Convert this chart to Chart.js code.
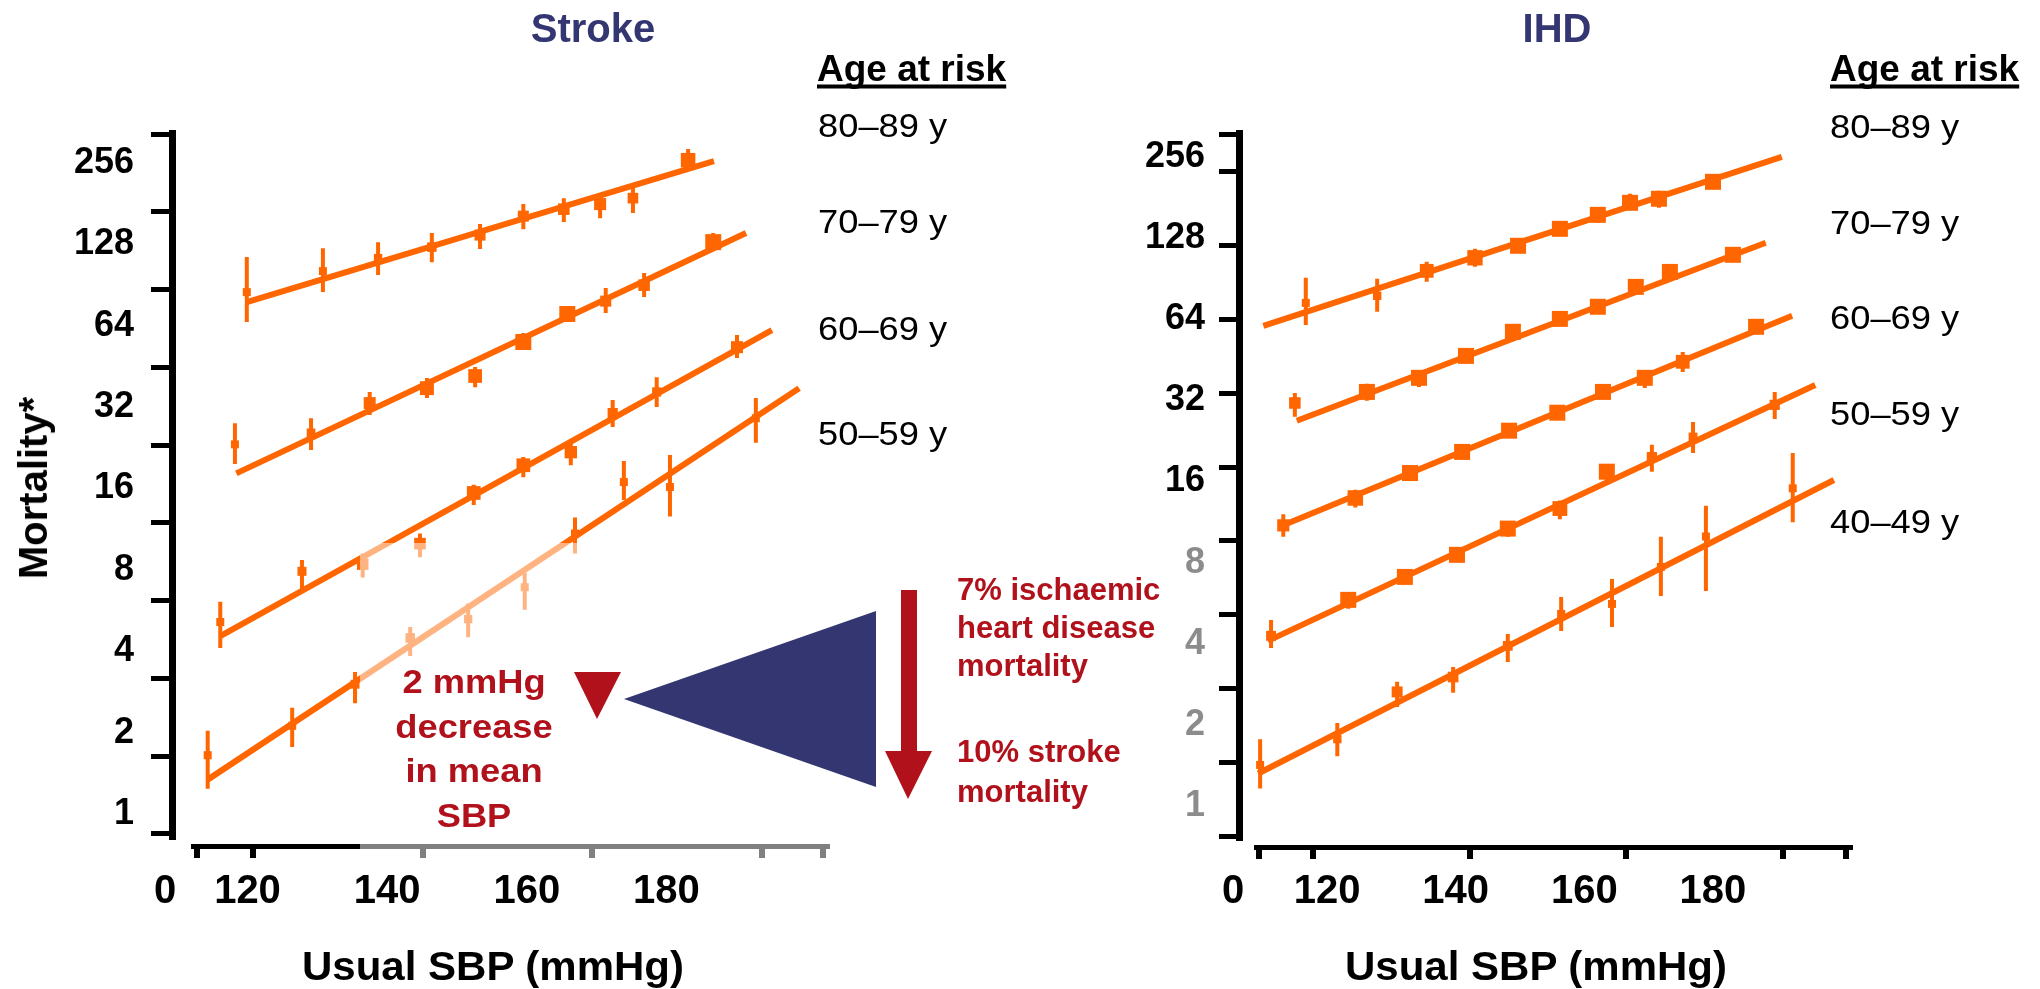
<!DOCTYPE html>
<html>
<head>
<meta charset="utf-8">
<script src="https://cdn.jsdelivr.net/npm/chart.js@4.4.1/dist/chart.umd.min.js"></script>
<style>
  html, body { margin: 0; padding: 0; background: #fff; }
  #page { position: relative; width: 2040px; height: 989px; overflow: hidden;
          font-family: "Liberation Sans", Arial, sans-serif; color: #000; }
  canvas { position: absolute; top: 0; }
  #strokeChart { left: 0; }
  #ihdChart { left: 1020px; }
  .t { position: absolute; white-space: nowrap; line-height: 1; }
  .title { font-size: 40px; font-weight: bold; color: #333670; transform: translate(-50%, -50%); }
  .head { font-size: 37px; font-weight: bold; transform: translate(0, -50%);
          text-decoration: underline; text-decoration-thickness: 4px;
          text-underline-offset: 4px; text-decoration-skip-ink: none; }
  .age { font-size: 33px; transform-origin: 0 50%; transform: translate(0, -50%) scaleX(1.1); }
  .xtitle { font-size: 40px; font-weight: bold; transform: translate(-50%, -50%) scaleX(1.05); }
  .ytitle { font-size: 40px; font-weight: bold; transform: translate(-50%, -50%) rotate(-90deg); }
  .note { color: #b0111b; font-weight: bold; }
  .mm { font-size: 33px; line-height: 44.5px; text-align: center;
        transform: translate(-50%, -50%) scaleX(1.1); }
  .pct { font-size: 31px; }
</style>
</head>
<body>
<div id="page">
  <canvas id="strokeChart" width="1020" height="989"></canvas>
  <canvas id="ihdChart" width="1020" height="989"></canvas>

  <div class="t title" style="left:593px; top:28px">Stroke</div>
  <div class="t title" style="left:1557px; top:28px">IHD</div>

  <div class="t head" style="left:817px; top:68px">Age at risk</div>
  <div class="t head" style="left:1830px; top:68px">Age at risk</div>

  <div class="t age" style="left:818px; top:125px">80–89 y</div>
  <div class="t age" style="left:818px; top:221px">70–79 y</div>
  <div class="t age" style="left:818px; top:328px">60–69 y</div>
  <div class="t age" style="left:818px; top:433px">50–59 y</div>

  <div class="t age" style="left:1830px; top:126px">80–89 y</div>
  <div class="t age" style="left:1830px; top:222px">70–79 y</div>
  <div class="t age" style="left:1830px; top:317px">60–69 y</div>
  <div class="t age" style="left:1830px; top:413px">50–59 y</div>
  <div class="t age" style="left:1830px; top:521px">40–49 y</div>

  <div class="t ytitle" style="left:33px; top:488px">Mortality*</div>
  <div class="t xtitle" style="left:493px; top:966px">Usual SBP (mmHg)</div>
  <div class="t xtitle" style="left:1536px; top:966px">Usual SBP (mmHg)</div>

  <div class="t note mm" style="left:474px; top:749px">2 mmHg<br>decrease<br>in mean<br>SBP</div>
  <div class="t note pct" style="left:957px; top:571px; line-height:38px">7% ischaemic<br>heart disease<br>mortality</div>
  <div class="t note pct" style="left:957px; top:732px; line-height:40px">10% stroke<br>mortality</div>
</div>

<script>
const ORANGE = '#ff6600';
const NAVY = '#333670';
const RED = '#b0111b';
const GREY = '#8c8c8c';

// Each row: [usual SBP, mortality, lower CI, upper CI]
const strokeAge80 = [
  [119.9, 85.2, 66.0, 114.8], [130.8, 101.9, 85.2, 123.9], [138.7, 113.8, 98.5, 130.4],
  [146.4, 125.0, 110.0, 140.9], [153.3, 138.5, 122.9, 152.1], [159.5, 162.7, 145.7, 180.3],
  [165.3, 172.7, 154.7, 189.7], [170.5, 180.3, 160.0, 194.6], [175.2, 189.7, 167.0, 208.4],
  [183.1, 262.1, 244.9, 288.0]
];
const strokeAge70 = [
  [118.2, 23.3, 19.7, 27.9], [129.1, 25.7, 22.2, 29.1], [137.5, 33.1, 29.9, 36.4],
  [145.7, 37.6, 34.6, 41.0], [152.6, 41.7, 37.9, 45.0], [159.5, 55.7, 52.0, 60.1],
  [165.8, 70.7, 66.0, 75.0], [171.3, 78.9, 71.3, 88.2], [176.8, 90.4, 81.7, 100.2],
  [186.7, 130.4, 121.9, 140.9]
];
const strokeAge60 = [
  [116.1, 5.13, 4.11, 6.1], [127.8, 7.9, 6.7, 8.7], [136.5, 8.4, 7.5, 9.2],
  [144.7, 10.0, 8.9, 10.9], [152.4, 15.4, 13.9, 16.5], [159.5, 19.5, 17.6, 20.9],
  [166.3, 21.8, 19.5, 23.6], [172.3, 30.4, 27.0, 34.0], [178.6, 36.4, 32.0, 41.3],
  [190.1, 53.3, 48.6, 59.1]
];
const strokeAge50 = [
  [114.3, 1.65, 1.24, 2.03], [126.4, 2.12, 1.77, 2.47], [135.4, 3.02, 2.57, 3.35],
  [143.3, 4.48, 3.84, 4.92], [151.6, 5.26, 4.51, 6.0], [159.7, 6.9, 5.7, 7.8],
  [166.9, 10.9, 9.2, 12.5], [173.9, 16.9, 14.5, 20.2], [180.5, 16.2, 12.6, 21.3],
  [192.8, 29.1, 23.6, 34.6]
];

const ihdAge80 = [
  [116.7, 73.6, 61.0, 91.2], [127.8, 78.2, 68.2, 90.4], [135.5, 96.8, 88.1, 104.5],
  [143.0, 108.2, 100.2, 116.8], [149.7, 119.9, 115.9, 124.0], [156.2, 138.6, 134.0, 143.4],
  [162.1, 156.2, 145.9, 165.9], [167.1, 173.1, 163.1, 186.9], [171.6, 179.2, 165.9, 191.8],
  [180.0, 207.1, 200.1, 214.3]
];
const ihdAge70 = [
  [115.0, 31.3, 27.8, 34.1], [126.2, 34.4, 31.9, 36.9], [134.3, 38.8, 35.9, 41.5],
  [141.6, 46.8, 45.2, 48.4], [148.9, 57.5, 55.6, 59.5], [156.2, 64.2, 62.1, 66.4],
  [162.1, 71.2, 68.8, 73.6], [168.0, 84.4, 81.6, 87.3], [173.3, 95.9, 92.7, 99.2],
  [183.1, 111.0, 107.3, 114.8]
];
const ihdAge60 = [
  [113.2, 11.0, 9.97, 12.1], [124.4, 13.9, 12.8, 14.9], [132.9, 17.2, 16.6, 17.8],
  [141.0, 20.6, 19.9, 21.3], [148.3, 24.7, 23.9, 25.6], [155.8, 28.8, 27.8, 29.8],
  [162.9, 34.4, 33.2, 35.6], [169.4, 38.8, 35.6, 41.2], [175.3, 44.5, 40.8, 48.4],
  [186.7, 60.0, 58.0, 62.1]
];
const ihdAge50 = [
  [111.3, 4.28, 3.86, 4.90], [123.3, 5.82, 5.39, 6.23], [132.1, 7.08, 6.73, 7.46],
  [140.2, 8.55, 8.05, 9.0], [148.1, 10.7, 9.97, 11.3], [156.2, 12.7, 11.6, 13.6],
  [163.5, 17.4, 16.2, 18.4], [170.5, 19.7, 17.4, 21.9], [176.9, 23.4, 20.4, 26.6],
  [189.6, 30.8, 27.3, 34.4]
];
const ihdAge40 = [
  [109.6, 1.42, 1.16, 1.77], [121.6, 1.77, 1.53, 2.03], [130.9, 2.65, 2.33, 2.89],
  [139.6, 3.01, 2.63, 3.28], [148.1, 3.93, 3.42, 4.35], [156.4, 5.16, 4.46, 5.97],
  [164.3, 5.62, 4.62, 6.96], [171.9, 7.71, 6.02, 9.97], [178.9, 10.0, 6.28, 13.0],
  [192.4, 15.1, 11.3, 20.4]
];

// Fitted log-linear trend for each age band: [[SBP, mortality], [SBP, mortality]]
const strokeFit80 = [[119.9, 78.2], [186.8, 260.0]];
const strokeFit70 = [[118.4, 18.2], [191.4, 140.9]];
const strokeFit60 = [[116.1, 4.55], [195.1, 61.6]];
const strokeFit50 = [[114.3, 1.34], [199.0, 37.6]];
const ihdFit80 = [[110.1, 60.5], [190.7, 256.4]];
const ihdFit70 = [[115.3, 26.9], [188.2, 123.0]];
const ihdFit60 = [[112.7, 10.9], [192.3, 65.9]];
const ihdFit50 = [[110.8, 4.10], [195.9, 36.5]];
const ihdFit40 = [[109.3, 1.32], [198.8, 16.2]];

const mortalityTicks = [1, 2, 4, 8, 16, 32, 64, 128, 256];
const sbpTicks = [120, 140, 160, 180];
const originLabel = '0';

Chart.defaults.font.family = '"Liberation Sans", Arial, sans-serif';

// square size shrinks as the confidence interval widens
function boxRadius(row) {
  const span = Math.log2(row[3] / row[2]);
  const side = Math.min(16, Math.max(8, 3.4 / span));
  return side / (2 * Math.SQRT1_2);
}

function seriesDatasets(rows, fit) {
  const whiskers = [];
  rows.forEach(r => {
    whiskers.push({ x: r[0], y: r[2] }, { x: r[0], y: r[3] }, { x: r[0], y: null });
  });
  return [
    {
      type: 'line', data: fit.map(([x, y]) => ({ x, y })),
      borderColor: ORANGE, borderWidth: 6, pointRadius: 0, xAxisID: 'x', yAxisID: 'y'
    },
    {
      type: 'line', data: whiskers, spanGaps: false,
      borderColor: ORANGE, borderWidth: 4, pointRadius: 0, xAxisID: 'x', yAxisID: 'y'
    },
    {
      type: 'scatter', data: rows.map(r => ({ x: r[0], y: r[1] })),
      pointStyle: 'rect', backgroundColor: ORANGE, borderWidth: 0,
      pointRadius: ctx => boxRadius(rows[ctx.dataIndex]), xAxisID: 'x', yAxisID: 'y'
    }
  ];
}

function panelOptions(p) {
  const fixed = (prop, v) => s => { s[prop] = v; };
  return {
    responsive: false,
    animation: false,
    events: [],
    devicePixelRatio: 1,
    layout: { padding: { left: 0, top: p.top, right: 1020 - p.right, bottom: 989 - p.bottom - 83 } },
    plugins: { legend: { display: false }, tooltip: { enabled: false } },
    scales: {
      x: {
        type: 'linear', axis: 'x', position: 'bottom', weight: 2, bounds: 'data',
        min: p.xMin, max: p.xMax,
        grid: { display: false, drawTicks: false }, border: { display: false },
        afterBuildTicks: s => { s.ticks = [p.xOrigin, ...sbpTicks].map(v => ({ value: v })); },
        afterFit: fixed('height', 60),
        ticks: {
          autoSkip: false, maxRotation: 0, padding: p.xLabelPad, color: '#000',
          font: { size: 40, weight: 'bold' },
          callback: v => (v === p.xOrigin ? originLabel : String(v))
        }
      },
      xt: {
        type: 'linear', axis: 'x', position: 'bottom', weight: 1, bounds: 'data',
        min: p.xtMin, max: p.xtMax,
        grid: { drawOnChartArea: false, drawTicks: true, tickLength: 12, lineWidth: 6, color: '#000' },
        border: { display: true, width: 5, color: '#000' },
        ticks: { display: false },
        afterBuildTicks: s => { s.ticks = p.xtMarks.map(v => ({ value: v })); },
        afterFit: fixed('height', 14)
      },
      xs: {
        type: 'linear', axis: 'x', position: 'bottom', weight: 0,
        grid: { display: false }, border: { display: false }, ticks: { display: false },
        afterFit: fixed('height', 9)
      },
      y: {
        type: 'logarithmic', axis: 'y', position: 'left', weight: 2, bounds: 'data',
        min: p.yMin, max: p.yMax,
        grid: { display: false, drawTicks: false }, border: { display: false },
        afterBuildTicks: s => { s.ticks = mortalityTicks.map(v => ({ value: v })); },
        afterFit: fixed('width', p.yLabelWidth),
        ticks: {
          autoSkip: false, padding: p.yLabelPad,
          font: { size: 36, weight: 'bold' },
          color: c => (p.greyBelow && c.tick && c.tick.value <= p.greyBelow ? GREY : '#000'),
          callback: v => String(v)
        }
      },
      yt: {
        type: 'linear', axis: 'y', position: 'left', weight: 1, bounds: 'data',
        min: p.ytMin, max: p.ytMax,
        grid: { drawOnChartArea: false, drawTicks: true, tickLength: p.yTickLen, lineWidth: 5, color: '#000' },
        border: { display: true, width: 7, color: '#000' },
        ticks: { display: false },
        afterBuildTicks: s => { s.ticks = p.ytMarks.map(v => ({ value: v })); },
        afterFit: fixed('width', 22)
      },
      ys: {
        type: 'linear', axis: 'y', position: 'left', weight: 0,
        grid: { display: false }, border: { display: false }, ticks: { display: false },
        afterFit: fixed('width', p.yGap)
      }
    }
  };
}

// pale wash over the lower middle of the stroke panel, then the blue wedge and red arrows on top
const strokeOverlay = {
  id: 'strokeOverlay',
  afterDraw(chart) {
    const ctx = chart.ctx;
    ctx.save();
    ctx.fillStyle = 'rgba(255,255,255,0.5)';
    ctx.fillRect(360, 543, 480, 320);

    ctx.fillStyle = RED;
    ctx.beginPath();
    ctx.moveTo(574, 672); ctx.lineTo(621, 672); ctx.lineTo(597, 719);
    ctx.closePath(); ctx.fill();

    ctx.fillStyle = NAVY;
    ctx.beginPath();
    ctx.moveTo(624, 699); ctx.lineTo(876, 611); ctx.lineTo(876, 787);
    ctx.closePath(); ctx.fill();

    ctx.fillStyle = RED;
    ctx.fillRect(901, 590, 16, 162);
    ctx.beginPath();
    ctx.moveTo(885, 751); ctx.lineTo(932, 751); ctx.lineTo(908, 799);
    ctx.closePath(); ctx.fill();
    ctx.restore();
  }
};

const yMarkSteps = [0, 1, 2, 3, 4, 5, 6, 7, 8, 9];

new Chart(document.getElementById('strokeChart'), {
  type: 'scatter',
  data: {
    datasets: [
      ...seriesDatasets(strokeAge80, strokeFit80),
      ...seriesDatasets(strokeAge70, strokeFit70),
      ...seriesDatasets(strokeAge60, strokeFit60),
      ...seriesDatasets(strokeAge50, strokeFit50)
    ]
  },
  options: panelOptions({
    top: 133, bottom: 837, right: 827,
    xMin: 112.195, xMax: 202.99, xOrigin: 108.2, xLabelPad: 8,
    xtMin: 112.93, xtMax: 187.66, xtMarks: [113.4, ...sbpTicks, 187.2],
    yMin: 0.822, yMax: 330.4, yLabelWidth: 150, yLabelPad: 16,
    ytMin: -0.04, ytMax: 9.016, ytMarks: yMarkSteps, yTickLen: 21, yGap: 21
  }),
  plugins: [strokeOverlay]
});

new Chart(document.getElementById('ihdChart'), {
  type: 'scatter',
  data: {
    datasets: [
      ...seriesDatasets(ihdAge80, ihdFit80),
      ...seriesDatasets(ihdAge70, ihdFit70),
      ...seriesDatasets(ihdAge60, ihdFit60),
      ...seriesDatasets(ihdAge50, ihdFit50),
      ...seriesDatasets(ihdAge40, ihdFit40)
    ]
  },
  options: panelOptions({
    top: 133, bottom: 838, right: 830,
    xMin: 108.96, xMax: 201.3, xOrigin: 105.4, xLabelPad: 7,
    xtMin: 112.72, xtMax: 188.55, xtMarks: [113.1, ...sbpTicks, 188.05],
    yMin: 0.7607, yMax: 314.3, yLabelWidth: 197, yLabelPad: 12, greyBelow: 8,
    ytMin: -0.027, ytMax: 9.526, ytMarks: [...yMarkSteps, 9.5], yTickLen: 20, yGap: 17
  })
});
</script>
</body>
</html>
